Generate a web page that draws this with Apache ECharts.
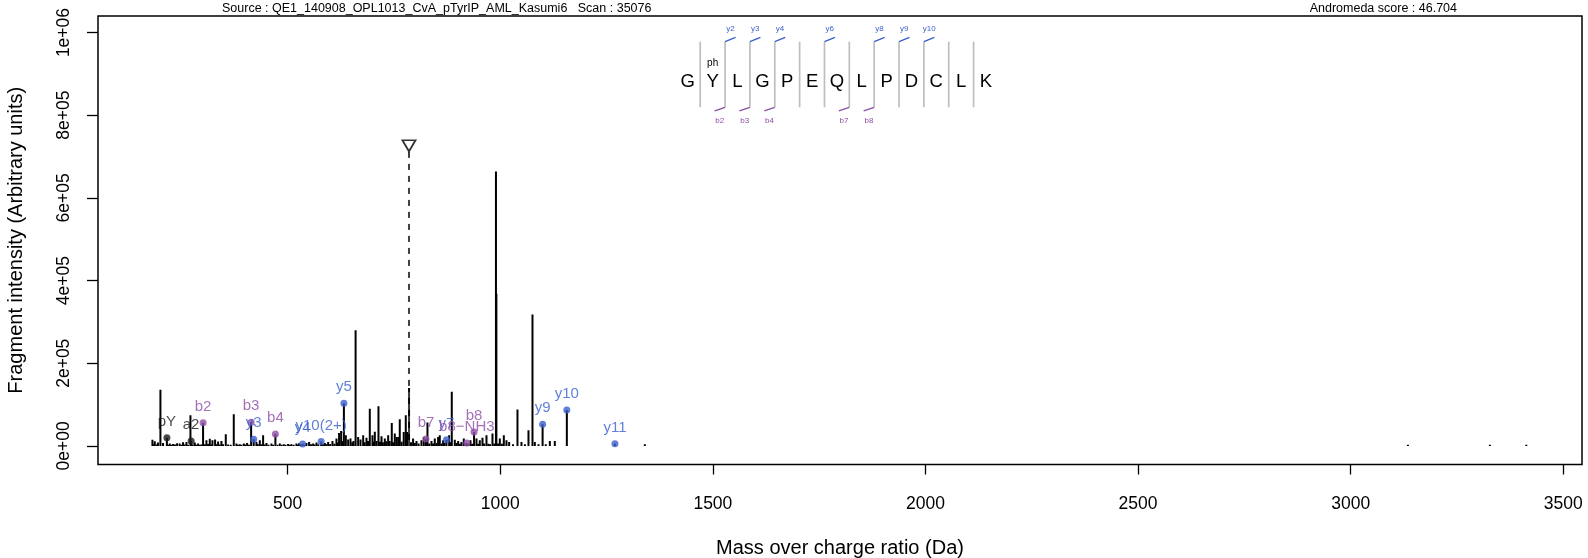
<!DOCTYPE html>
<html><head><meta charset="utf-8">
<script src="https://cdn.jsdelivr.net/npm/echarts@6/dist/echarts.min.js"></script>
<style>html,body{margin:0;padding:0;background:#fff}#c{width:1588px;height:558px}</style>
</head><body><div id="c"></div><script>
// ---- data ----
const peakMz = [182,185,187.5,192,195,200.8,207,216.0,218.5,222.8,226,230.6,235,240,246,250,254,258,262,266,271.4,273.0,277,281.6,285,289.4,293,297,301.1,305,309,313,316.9,320,323.1,329.4,332,336.5,340,344.3,348,354.5,360,366,373.3,379.6,383,387.4,391,396.8,400,404.7,409,414.1,420.2,426.6,430,434.5,438,442.3,446,450.2,455,461.9,466,471.2,476,481.5,486,490.9,495,501.1,505,509,514,520.7,524,527,531,535.3,540,544.2,550.5,555,559.9,563,567.8,572,578.8,583,587.4,591,595.2,600,605.4,610,614.8,618,621,625.8,629,632.3,636.8,642.3,647.8,652,655,659.8,665.8,671.3,677.6,681,685.4,689,693.2,699.5,702,705,709,713.6,717,720.7,724,728.5,732,736.4,740,744.9,748,752,756,760,763.7,768,773,777.8,781,785.5,790,795,799,803,808,814.7,820.2,825.3,828.8,833,838.2,842,846,850,853.9,857.8,862,865.7,869,873.5,879.8,883,886,893.1,897,901,905,908.8,914.3,918,921.4,925,930,934,938.4,944.1,948,951.9,958.2,962,967.6,972,976,981.7,986,989.9,990.9,995,999,1004,1008.4,1014.6,1020.9,1030,1040.5,1049.9,1058,1066.4,1075.8,1081.3,1090,1099.6,1107,1116.6,1128.3,1156.6,1269.7,1340,3134.5,3327.4,3413];
const peakInt = [15000,4000,11000,3500,8000,136000,7000,20000,3000,5600,3000,4800,3500,6400,5600,3000,8800,3500,9700,3000,74000,12000,3500,8000,3000,5600,3000,3500,55700,4000,13700,4500,17000,3500,13700,15300,4000,10500,3500,12100,4000,28000,3500,3000,76600,5600,3000,4000,3000,5600,3500,7300,3000,57000,16000,9700,4000,13700,4000,25800,3500,7300,3000,5600,3000,29000,3000,5600,3000,4000,3000,4800,3000,4000,3000,5600,3000,6400,3500,4800,3000,7300,9700,4000,5600,3500,8000,4000,10500,4000,7300,4000,9700,4500,12100,5000,17700,8000,31500,36300,12000,103000,25800,15300,17700,9000,12000,280000,21800,15300,25800,9000,20000,12000,90000,25800,10000,34000,12000,96000,10000,23400,9000,17700,11000,25800,12000,55500,9000,30000,21600,21800,64500,10000,33700,74000,33700,140000,9000,17600,7000,12000,6000,13500,21600,16800,56400,6000,12000,6000,17600,7000,21600,25700,6000,13500,7000,15000,25700,9000,130700,15000,7000,12000,5000,9500,17600,5000,7000,5000,13500,5000,33700,17600,5000,13500,20000,6000,25700,5000,4000,29700,6000,664000,368000,6000,17600,5000,25700,13500,9500,4000,87800,9500,4000,37800,317800,9500,4000,52300,4000,12000,12000,87000,5500,3900,3000,3000,3000];

const ionLabels = ['pY','a2','b2','b3','y3','b4','y4','y10(2+)','y5','b7','y7','b8\u2212NH3','b8','y9','y10','y11'];
const ionMz =     [216.0,273.0,301.1,414.1,420.2,471.2,535.3,578.8,632.3,825.3,873.5,921.4,938.4,1099.6,1156.6,1269.7];
const ionInt =    [20000,12000,55700,57000,16000,29000,4800,10500,103000,16800,15000,7000,33700,52300,87000,5500];
const ionKind =   ['o','o','b','b','y','b','y','y','y','b','y','b','b','y','y','y'];

const precursorMz = 785.34;
const precursorMarkerInt = 726000;
const precursorLineTop = 713000;

const xTicks = [500,1000,1500,2000,2500,3000,3500];
const yTicks = [0,200000,400000,600000,800000,1000000];
const yTickLabels = ['0e+00','2e+05','4e+05','6e+05','8e+05','1e+06'];

const sequence = ['G','Y','L','G','P','E','Q','L','P','D','C','L','K'];
const phosphoSite = 1;
const yIonSites = [1,2,3,5,7,8,9];
const yIonNames = ['y2','y3','y4','y6','y8','y9','y10'];
const bIonSites = [1,2,3,6,7];
const bIonNames = ['b2','b3','b4','b7','b8'];

const sourceText = 'Source : QE1_140908_OPL1013_CvA_pTyrIP_AML_Kasumi6   Scan : 35076';
const scoreText = 'Andromeda score : 46.704';

// ---- styles ----
const FONT = '"Liberation Sans", Arial, Helvetica, sans-serif';
const BLUE = '#3A5FCD';
const PURPLE = '#8E4FA6';
const kindColor = {y: BLUE, b: PURPLE, o: '#1a1a1a'};

const chart = echarts.init(document.getElementById('c'), null, {renderer: 'canvas'});

// peptide diagram (annotation graphics)
const seqX0 = 687.8, seqStep = 24.85, seqY = 81.7;
const sepTop = 41.7, sepBot = 107.3;
const sepX = i => seqX0 + i * seqStep + seqStep / 2;
const graphics = [];
graphics.push({type:'text', left: 222, top: 2, style:{text: sourceText, font: '12.5px ' + FONT, fill:'#000'}});
graphics.push({type:'text', right: 1588 - 1457, top: 2, style:{text: scoreText, font: '12.5px ' + FONT, fill:'#000'}});
for (let i = 0; i < sequence.length - 1; i++) {
  graphics.push({type:'line', shape:{x1: sepX(i), y1: sepTop, x2: sepX(i), y2: sepBot}, style:{stroke:'#BEBEBE', lineWidth:1.7}});
}
sequence.forEach((aa, i) => {
  graphics.push({type:'text', x: seqX0 + i * seqStep, y: seqY, style:{text: aa, font: '18.5px ' + FONT, fill:'#000', align:'center', verticalAlign:'middle'}});
});
graphics.push({type:'text', x: seqX0 + phosphoSite * seqStep, y: 63.3, style:{text:'ph', font:'10px ' + FONT, fill:'#000', align:'center', verticalAlign:'middle'}});
yIonSites.forEach((s, k) => {
  const x = sepX(s);
  graphics.push({type:'line', shape:{x1: x, y1: sepTop, x2: x + 10.5, y2: sepTop - 4.4}, style:{stroke: BLUE, lineWidth: 1.3}});
  graphics.push({type:'text', x: x + 5.3, y: 28.3, style:{text: yIonNames[k], font:'8px ' + FONT, fill: BLUE, align:'center', verticalAlign:'middle'}});
});
bIonSites.forEach((s, k) => {
  const x = sepX(s);
  graphics.push({type:'line', shape:{x1: x, y1: sepBot, x2: x - 10.5, y2: sepBot + 3.6}, style:{stroke: PURPLE, lineWidth: 1.3}});
  graphics.push({type:'text', x: x - 5.3, y: 120.7, style:{text: bIonNames[k], font:'8px ' + FONT, fill: PURPLE, align:'center', verticalAlign:'middle'}});
});

const peakData = peakMz.map((m, i) => [m, peakInt[i]]);
const ionData = ionMz.map((m, i) => ({
  value: [m, ionInt[i]], name: ionLabels[i],
  itemStyle: {color: kindColor[ionKind[i]]},
  label: {color: kindColor[ionKind[i]]}
}));

chart.setOption({
  animation: false,
  backgroundColor: '#fff',
  textStyle: {fontFamily: FONT},
  grid: {left: 98, right: 6, top: 16, bottom: 93.5, show: true, borderColor: '#000', borderWidth: 1.5,
         backgroundColor: 'transparent', containLabel: false, outerBoundsMode: 'none'},
  xAxis: {
    type: 'value', min: 54, max: 3544,
    name: 'Mass over charge ratio (Da)', nameLocation: 'middle', nameGap: 74,
    nameTextStyle: {fontSize: 20, color: '#000', fontFamily: FONT},
    axisLine: {show: false, onZero: false},
    axisTick: {show: true, customValues: xTicks, length: 10, lineStyle: {color: '#000', width: 1.3}},
    axisLabel: {customValues: xTicks, fontSize: 17.5, color: '#000', margin: 31, fontFamily: FONT, formatter: v => String(v)},
    splitLine: {show: false}
  },
  yAxis: {
    type: 'value', min: -45000, max: 1040000,
    name: 'Fragment intensity (Arbitrary units)', nameLocation: 'middle', nameGap: 72, nameRotate: 90,
    nameTextStyle: {fontSize: 20, color: '#000', fontFamily: FONT},
    axisLine: {show: false, onZero: false},
    axisTick: {show: true, customValues: yTicks, length: 11, lineStyle: {color: '#000', width: 1.3}},
    axisLabel: {customValues: yTicks, rotate: 90, fontSize: 17.5, color: '#000', margin: 25, fontFamily: FONT,
      formatter: v => { const k = yTicks.indexOf(v); return k >= 0 ? yTickLabels[k] : ''; }},
    splitLine: {show: false}
  },
  graphic: graphics,
  series: [
    {
      type: 'custom', name: 'peaks', data: peakData, clip: true,
      renderItem: (params, api) => {
        const p0 = api.coord([api.value(0), 0]);
        const p1 = api.coord([api.value(0), api.value(1)]);
        return {type: 'line', shape: {x1: p0[0], y1: p0[1], x2: p1[0], y2: p1[1]}, style: {stroke: '#000', lineWidth: 2}};
      }
    },
    {
      type: 'custom', name: 'precursor', data: [[precursorMz, precursorLineTop]],
      renderItem: (params, api) => {
        const p0 = api.coord([api.value(0), 0]);
        const p1 = api.coord([api.value(0), api.value(1)]);
        return {type: 'line', shape: {x1: p0[0], y1: p0[1], x2: p1[0], y2: p1[1]}, style: {stroke: '#404040', lineWidth: 2, lineDash: [6, 6]}};
      }
    },
    {
      type: 'scatter', name: 'precursorMarker', data: [[precursorMz, precursorMarkerInt]],
      symbol: 'triangle', symbolRotate: 180, symbolSize: [13, 11],
      itemStyle: {color: '#fff', borderColor: '#000', borderWidth: 1.8}
    },
    {
      type: 'scatter', name: 'ions', data: ionData, symbol: 'circle', symbolSize: 7, z: 5,
      label: {show: true, position: 'top', distance: 5, fontSize: 15, fontFamily: FONT, formatter: p => p.name}
    }
  ]
});
</script></body></html>
